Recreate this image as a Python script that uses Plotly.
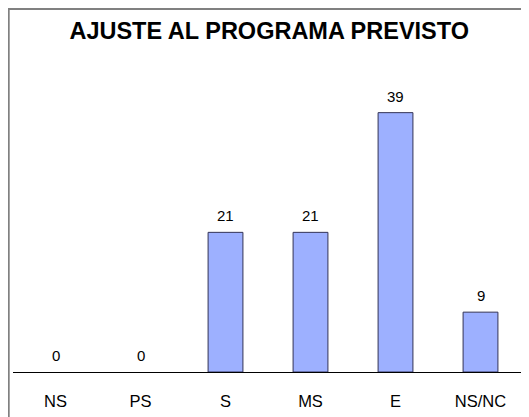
import plotly.graph_objects as go

categories = ["NS", "PS", "S", "MS", "E", "NS/NC"]
values = [0, 0, 21, 21, 39, 9]
title_text = "AJUSTE AL PROGRAMA PREVISTO"

# the page body adds an 8px margin, so the figure is sized to fit inside the window
W, H = 521, 409
L, R, T, B = 5.3, 5.7, 52, 45
plot_w = W - L - R
plot_h = H - T - B
px_per_unit = 6.65
ymax = plot_h / px_per_unit

def px_x(x):
    return (x - L) / plot_w

def px_y(y):
    return (H - B - y) / plot_h

fig = go.Figure()
fig.add_trace(go.Bar(
    x=categories, y=values,
    marker=dict(color="#9DB0FF",
                line=dict(color="#333355", width=[0 if v == 0 else 1 for v in values])),
    width=0.41,
))

for c, v in zip(categories, values):
    fig.add_annotation(x=c, y=v, text=str(v), showarrow=False, yanchor="bottom",
                       xanchor="center", yshift=6,
                       font=dict(size=15, color="black", family="Liberation Sans, Arial"))

fig.add_shape(type="path", xref="paper", yref="paper",
              path=f"M {px_x(1)} {px_y(440)} L {px_x(1)} {px_y(1)} L {px_x(560)} {px_y(1)}",
              line=dict(color="#808080", width=2))

fig.update_layout(
    width=W, height=H,
    margin=dict(l=L, r=R, t=T, b=B, pad=0),
    paper_bgcolor="white", plot_bgcolor="white",
    showlegend=False,
    font=dict(family="Liberation Sans, Arial", color="black"),
    title=dict(text=f"<b>{title_text}</b>", x=px_x(261.5), xref="paper", xanchor="center",
               y=1 - 23 / H, yref="container", yanchor="middle",
               font=dict(size=23.5, color="black", family="Liberation Sans, Arial")),
    xaxis=dict(showline=True, linecolor="black", linewidth=1, ticks="outside",
               ticklen=14, tickcolor="rgba(0,0,0,0)",
               tickfont=dict(size=16.5, color="black"), showgrid=False, zeroline=False),
    yaxis=dict(range=[0, ymax], showticklabels=False, showgrid=False, zeroline=False,
               showline=False),
)

fig.write_html("out.html")
